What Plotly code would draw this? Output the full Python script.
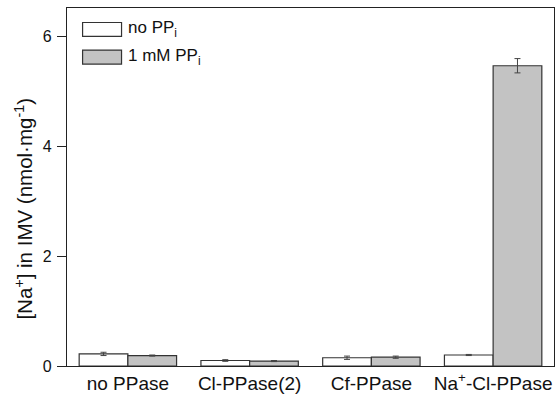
import plotly.graph_objects as go

categories = ["no PPase", "Cl-PPase(2)", "Cf-PPase", "Na<sup>+</sup>-Cl-PPase"]
series_names = ["no PP<sub>i</sub>", "1 mM PP<sub>i</sub>"]
no_ppi = [0.22, 0.10, 0.15, 0.20]
no_ppi_err = [0.03, 0.015, 0.03, 0.01]
mm_ppi = [0.19, 0.09, 0.16, 5.46]
mm_ppi_err = [0.01, 0.01, 0.02, 0.13]
y_ticks = [0, 2, 4, 6]
y_title = "[Na<sup>+</sup>] in IMV (nmol·mg<sup>-1</sup>)"

fills = ["#ffffff", "#c3c3c3"]
font = "Liberation Sans, Arial, sans-serif"

fig = go.Figure()
for name, vals, errs, col in [(series_names[0], no_ppi, no_ppi_err, fills[0]),
                              (series_names[1], mm_ppi, mm_ppi_err, fills[1])]:
    fig.add_trace(go.Bar(
        x=categories, y=vals, name=name,
        marker=dict(color=col, line=dict(color="#333333", width=1.2)),
        error_y=dict(type="data", array=errs, visible=True, color="#444444", thickness=1, width=3),
        showlegend=False,
    ))

# custom legend (large swatches, as in the reference)
leg_items = [(0.032, 0.940), (0.032, 0.863)]
for (x0, yc), col, name in zip(leg_items, fills, series_names):
    fig.add_shape(type="rect", xref="paper", yref="paper",
                  x0=x0, x1=x0 + 0.080, y0=yc - 0.0195, y1=yc + 0.0195,
                  fillcolor=col, line=dict(color="#333333", width=1.2))
    fig.add_annotation(xref="paper", yref="paper", x=x0 + 0.090, y=yc,
                       text=name, showarrow=False, xanchor="left", yanchor="middle",
                       font=dict(family=font, size=17, color="#111111"))

# y-axis title placed as in the reference (slightly below the axis middle)
fig.add_annotation(xref="paper", yref="paper", x=-0.088, y=0.44, text=y_title,
                   textangle=-90, showarrow=False, xanchor="center", yanchor="middle",
                   font=dict(family=font, size=20.5, color="#111111"))

fig.update_layout(
    width=557, height=400,
    margin=dict(l=67, r=3, t=8, b=34, autoexpand=False),
    paper_bgcolor="white", plot_bgcolor="white",
    barmode="group", bargap=0.2, bargroupgap=0,
    font=dict(family=font, size=18, color="#111111"),
)
fig.update_xaxes(range=[-0.5, 3.5], showline=True, linecolor="#222222", linewidth=1.2,
                 mirror=True, ticks="", showgrid=False, tickfont=dict(size=19),
                 automargin=False)
fig.update_yaxes(range=[0, 6.51], tickvals=y_ticks, showline=True, linecolor="#222222",
                 linewidth=1.2, mirror=True, ticks="outside", ticklen=9, tickcolor="#222222",
                 ticklabelstandoff=2,
                 showgrid=False, zeroline=False, tickfont=dict(size=16), automargin=False)

fig.write_html("out.html", config={"displayModeBar": False},
               post_script="document.body.style.margin='0';document.body.style.padding='0';")
